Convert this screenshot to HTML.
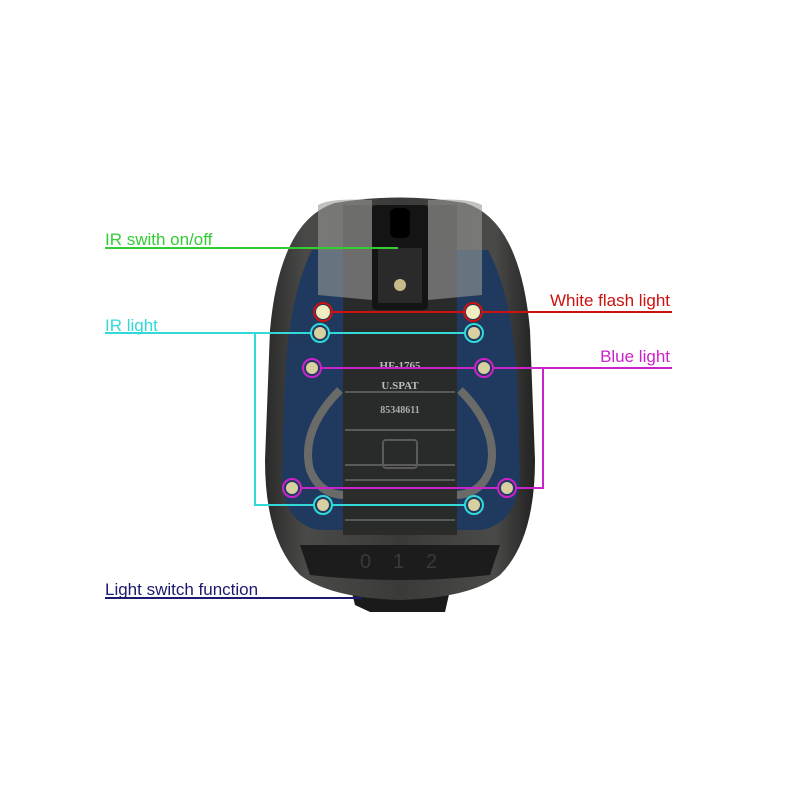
<!DOCTYPE html>
<html><head><meta charset="utf-8"><style>
html,body{margin:0;padding:0;background:#fff;}
svg{display:block;}
text{font-family:"Liberation Sans",sans-serif;font-size:17px;}
</style></head><body>
<svg width="800" height="800" viewBox="0 0 800 800" xmlns="http://www.w3.org/2000/svg">
<defs>
<linearGradient id="body" x1="0" x2="1">
<stop offset="0" stop-color="#2a2a2a"/><stop offset="0.15" stop-color="#4a4a48"/>
<stop offset="0.5" stop-color="#3a3a38"/><stop offset="0.85" stop-color="#4a4a48"/><stop offset="1" stop-color="#222"/>
</linearGradient>
</defs>
<path d="M350 585 L355 605 L370 612 L445 612 L450 590 Z" fill="#1a1a1a"/>
<path d="M335 203 Q400 192 465 203 Q520 220 530 330 L535 460 Q535 540 500 575 Q470 598 400 600 Q330 598 300 575 Q265 540 265 460 L270 330 Q280 220 335 203 Z" fill="url(#body)"/>
<path d="M312 250 L488 250 Q515 300 518 400 L520 480 Q515 525 480 530 L320 530 Q285 525 282 480 L284 400 Q287 300 312 250 Z" fill="#1f3a5e"/>
<path d="M340 390 Q300 430 310 470 Q320 495 345 495 L455 495 Q480 495 490 470 Q500 430 460 390" fill="none" stroke="#6a6a68" stroke-width="8"/>
<rect x="343" y="205" width="114" height="330" fill="#2a2a28" opacity="0.95"/>
<path d="M318 205 Q330 198 372 200 L372 300 L318 295 Z" fill="#9a9a98" opacity="0.6"/>
<path d="M482 205 Q470 198 428 200 L428 300 L482 295 Z" fill="#9a9a98" opacity="0.6"/>
<g stroke="#5a5a58" stroke-width="2">
<line x1="345" y1="392" x2="455" y2="392"/><line x1="345" y1="430" x2="455" y2="430"/>
<line x1="345" y1="465" x2="455" y2="465"/><line x1="345" y1="480" x2="455" y2="480"/>
<line x1="345" y1="520" x2="455" y2="520"/>
</g>
<rect x="383" y="440" width="34" height="28" rx="3" fill="none" stroke="#5a5a58" stroke-width="2"/>
<text x="400" y="369" text-anchor="middle" fill="#bbb" style="font-family:'Liberation Serif',serif;font-size:11px;font-weight:bold">HF-1765</text>
<text x="400" y="389" text-anchor="middle" fill="#bbb" style="font-family:'Liberation Serif',serif;font-size:11px;font-weight:bold">U.SPAT</text>
<text x="400" y="413" text-anchor="middle" fill="#aaa" style="font-family:'Liberation Serif',serif;font-size:10px;font-weight:bold">85348611</text>
<rect x="372" y="205" width="56" height="105" rx="4" fill="#141414"/>
<rect x="378" y="248" width="44" height="55" fill="#2a2a2a"/>
<circle cx="400" cy="285" r="6" fill="#c9b98a"/>
<rect x="390" y="208" width="20" height="30" rx="6" fill="#000"/>
<path d="M300 545 L500 545 L490 575 Q400 585 310 575 Z" fill="#1c1c1c"/>
<text x="360" y="568" fill="#3a3a3a" style="font-size:20px">0</text>
<text x="393" y="568" fill="#3a3a3a" style="font-size:20px">1</text>
<text x="426" y="568" fill="#3a3a3a" style="font-size:20px">2</text>
<g fill="#d8d0a0">
<circle cx="323" cy="312" r="7" fill="#f0eec0"/><circle cx="473" cy="312" r="7" fill="#f0eec0"/>
<circle cx="320" cy="333" r="6"/><circle cx="474" cy="333" r="6"/>
<circle cx="312" cy="368" r="6"/><circle cx="484" cy="368" r="6"/>
<circle cx="292" cy="488" r="6"/><circle cx="507" cy="488" r="6"/>
<circle cx="323" cy="505" r="6"/><circle cx="474" cy="505" r="6"/>
</g>
<g fill="none" stroke-width="2">
<line x1="105" y1="248" x2="398" y2="248" stroke="#33cc33"/>
<g stroke="#cc1111">
<circle cx="323" cy="312" r="9"/><circle cx="473" cy="312" r="9"/>
<line x1="330" y1="312" x2="466" y2="312"/><line x1="482" y1="312" x2="672" y2="312"/>
</g>
<g stroke="#33d8d8">
<circle cx="320" cy="333" r="9"/><circle cx="474" cy="333" r="9"/>
<circle cx="323" cy="505" r="9"/><circle cx="474" cy="505" r="9"/>
<polyline points="105,333 311,333"/><line x1="329" y1="333" x2="465" y2="333"/>
<polyline points="255,333 255,505 314,505"/><line x1="332" y1="505" x2="465" y2="505"/>
</g>
<g stroke="#cc22cc">
<circle cx="312" cy="368" r="9"/><circle cx="484" cy="368" r="9"/>
<circle cx="292" cy="488" r="9"/><circle cx="507" cy="488" r="9"/>
<line x1="321" y1="368" x2="475" y2="368"/><line x1="493" y1="368" x2="672" y2="368"/>
<polyline points="543,368 543,488 516,488"/><line x1="301" y1="488" x2="498" y2="488"/>
</g>
<line x1="105" y1="598" x2="362" y2="598" stroke="#1a1a6e"/>
</g>
<text x="105" y="245" fill="#33cc33">IR swith on/off</text>
<text x="670" y="306" text-anchor="end" fill="#cc1111">White flash light</text>
<text x="105" y="331" fill="#33d8d8">IR light</text>
<text x="670" y="362" text-anchor="end" fill="#cc22cc">Blue light</text>
<text x="105" y="595" fill="#1a1a6e">Light switch function</text>
</svg>
</body></html>
